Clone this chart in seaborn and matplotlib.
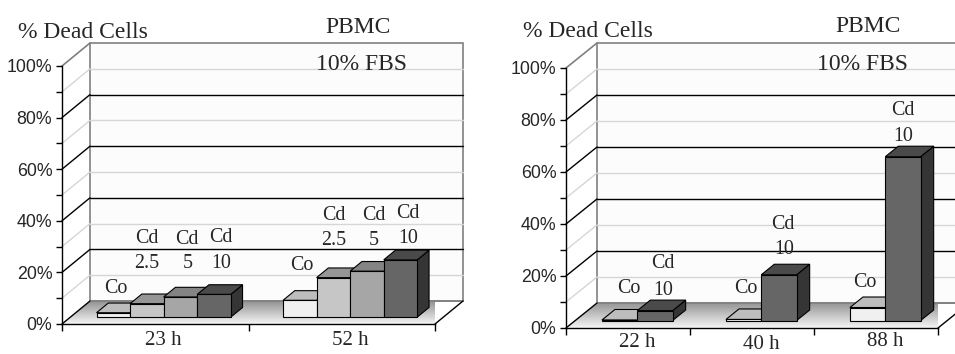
import numpy as np
import pandas as pd
import matplotlib
matplotlib.use("Agg")
import matplotlib.pyplot as plt
import seaborn as sns
from matplotlib.patches import Polygon, Rectangle
from matplotlib.colors import LinearSegmentedColormap, to_rgba

# ---------------- data ----------------
left_times = ["23 h", "52 h"]
left_series = ["Co", "Cd 2.5", "Cd 5", "Cd 10"]
left_co = [1.7, 6.5]
left_cd25 = [5.2, 15.3]
left_cd5 = [7.8, 17.8]
left_cd10 = [8.8, 22.2]

right_times = ["22 h", "40 h", "88 h"]
right_series = ["Co", "Cd 10"]
right_co = [0.2, 0.4, 5.0]
right_cd10 = [3.8, 17.6, 63.0]

y_major = [0, 20, 40, 60, 80, 100]
y_minor = [10, 30, 50, 70, 90]
y_labels = ["0%", "20%", "40%", "60%", "80%", "100%"]

title_cell = "PBMC"
title_medium = "10% FBS"
ylab = "% Dead Cells"

# ---------------- style ----------------
front_col = {"Co": "#f0f0f0", "Cd 2.5": "#c6c6c6", "Cd 5": "#a6a6a6", "Cd 10": "#666666"}
top_col = {"Co": "#bdbdbd", "Cd 2.5": "#969696", "Cd 5": "#848484", "Cd 10": "#4a4a4a"}
side_col = {"Co": "#a0a0a0", "Cd 2.5": "#8a8a8a", "Cd 5": "#6e6e6e", "Cd 10": "#353535"}

sns.set_style("white")
plt.rcParams["font.family"] = ["Liberation Sans", "DejaVu Sans"]
SERIF = ["Liberation Serif", "DejaVu Serif"]

W, H = 955, 354
fig = plt.figure(figsize=(W / 100, H / 100), dpi=100)
fig.patch.set_facecolor("white")

floor_cmap = LinearSegmentedColormap.from_list("floor", ["#f6f6f6", "#929292"])


def fpx(x, y):
    return x / W, 1 - y / H


def panel(rect, times, series, value_lists, width, dpx, bar_front=0.3, bar_depth=0.42):
    x0p, y0p, x1p, y100p = rect
    ax = fig.add_axes([x0p / W, 1 - y0p / H, (x1p - x0p) / W, (y0p - y100p) / H])
    n = len(times)
    rows = []
    for s, vals in zip(series, value_lists):
        for t, v in zip(times, vals):
            rows.append({"time": t, "series": s, "value": v})
    df = pd.DataFrame(rows)
    sns.barplot(data=df, x="time", y="value", hue="series", order=times,
                hue_order=series, palette=[front_col[s] for s in series],
                width=width, saturation=1, edgecolor="black", linewidth=0.8,
                errorbar=None, legend=False, ax=ax)
    ax.set_xlabel("")
    ax.set_ylabel("")
    xa, xb = -0.5, n - 0.5
    ddx = dpx[0] / (x1p - x0p) * n
    ddy = dpx[1] / (y0p - y100p) * 100

    bars = sorted(list(ax.patches), key=lambda p: p.get_x())
    for k, p in enumerate(bars):
        fc = p.get_facecolor()
        s = min(series, key=lambda q: sum((a - b) ** 2 for a, b in zip(to_rgba(front_col[q]), fc)))
        x, w, h = p.get_x(), p.get_width(), p.get_height()
        x = x + bar_front * ddx
        y = bar_front * ddy
        p.set_x(x)
        p.set_y(y)
        z = 3 + k * 0.01
        p.set_zorder(z + 0.005)
        p.set_clip_on(False)
        bx, by = bar_depth * ddx, bar_depth * ddy
        top = Polygon([(x, y + h), (x + w, y + h), (x + w + bx, y + h + by), (x + bx, y + h + by)],
                      closed=True, facecolor=top_col[s], edgecolor="black", lw=0.8,
                      zorder=z, clip_on=False)
        side = Polygon([(x + w, y), (x + w, y + h), (x + w + bx, y + h + by), (x + w + bx, y + by)],
                       closed=True, facecolor=side_col[s], edgecolor="black", lw=0.8,
                       zorder=z, clip_on=False)
        ax.add_patch(side)
        ax.add_patch(top)

    # left wall
    ax.add_patch(Polygon([(xa, 0), (xa, 100), (xa + ddx, 100 + ddy), (xa + ddx, ddy)],
                         closed=True, facecolor="white", edgecolor="none", zorder=0.2, clip_on=False))
    # back wall
    ax.add_patch(Rectangle((xa + ddx, ddy), xb - xa, 100, facecolor="#fcfcfc",
                           edgecolor="#808080", lw=1.2, zorder=0.2, clip_on=False))
    for v in y_minor:
        ax.plot([xa + ddx, xb + ddx], [v + ddy, v + ddy], color="#d6d6d6", lw=1, zorder=0.3, clip_on=False)
        ax.plot([xa, xa + ddx], [v, v + ddy], color="#d6d6d6", lw=1, zorder=0.3, clip_on=False)
    for v in y_major[1:-1]:
        ax.plot([xa + ddx, xb + ddx], [v + ddy, v + ddy], color="black", lw=1, zorder=0.35, clip_on=False)
        ax.plot([xa, xa + ddx], [v, v + ddy], color="black", lw=1, zorder=0.35, clip_on=False)
    ax.plot([xa, xa + ddx], [100, 100 + ddy], color="#808080", lw=1.2, zorder=0.35, clip_on=False)

    # floor with gradient
    floor = Polygon([(xa, 0), (xb, 0), (xb + ddx, ddy), (xa + ddx, ddy)], closed=True,
                    facecolor="none", edgecolor="none", zorder=0.5, clip_on=False)
    ax.add_patch(floor)
    grad = np.linspace(0, 1, 200).reshape(-1, 1)
    im = ax.imshow(grad, extent=[xa, xb + ddx, 0, ddy], origin="lower", aspect="auto",
                   cmap=floor_cmap, zorder=0.5, interpolation="bilinear")
    im.set_clip_path(floor)
    ax.plot([xa + ddx, xb + ddx], [ddy, ddy], color="#808080", lw=1.2, zorder=0.6, clip_on=False)
    ax.plot([xa, xa + ddx], [0, ddy], color="black", lw=1, zorder=0.6, clip_on=False)
    ax.plot([xb, xb + ddx], [0, ddy], color="black", lw=1, zorder=0.6, clip_on=False)

    ax.set_xlim(xa, xb)
    ax.set_ylim(0, 100)
    ax.patch.set_visible(False)
    for sp in ["top", "right"]:
        ax.spines[sp].set_visible(False)
    for sp in ["left", "bottom"]:
        ax.spines[sp].set_visible(True)
        ax.spines[sp].set_color("black")
        ax.spines[sp].set_linewidth(1)
    ax.set_yticks(y_major, y_labels)
    ax.set_yticks(y_minor, minor=True)
    ax.tick_params(axis="y", which="both", direction="out", length=4, width=1,
                   color="black", labelsize=12.8, pad=3, left=True)
    ax.set_xticks(np.arange(n + 1) - 0.5, [""] * (n + 1))
    ax.tick_params(axis="x", which="major", direction="out", length=5, width=1,
                   color="black", bottom=True)
    return ax, ddx, ddy


axL, ddxL, ddyL = panel((62, 324, 435, 66), left_times, left_series,
                        [left_co, left_cd25, left_cd5, left_cd10], 0.72, (28, 23))
axR, ddxR, ddyR = panel((566, 328, 938, 68), right_times, right_series,
                        [right_co, right_cd10], 0.57, (31, 25))


# category labels (below the axis, shifted by bar depth offset)
def cat_labels(ax, times, ddx, y0p, scale, baselines):
    for i, (t, b) in enumerate(zip(times, baselines)):
        ax.text(i + 0.3 * ddx, (y0p - b) / scale * 100, t, ha="center", va="baseline",
                family=SERIF, fontsize=15, clip_on=False)


cat_labels(axL, left_times, ddxL, 324, 258, [345, 345])
cat_labels(axR, right_times, ddxR, 328, 260, [347, 349, 346])


# titles
def ftext(x, y, s, size, ha="center"):
    fx, fy = fpx(x, y)
    fig.text(fx, fy, s, ha=ha, va="baseline", family=SERIF, fontsize=size)


ftext(18, 38, ylab, 17, ha="left")
ftext(358, 33, title_cell, 17)
ftext(361, 70, title_medium, 17)
ftext(523, 37, ylab, 17, ha="left")
ftext(868, 32, title_cell, 17)
ftext(862, 70, title_medium, 17)

# bar annotations
lab = 14.4
for x, y, s in [(116, 293, "Co"), (147, 243, "Cd"), (147, 268, "2.5"), (187, 244, "Cd"),
                (188, 268, "5"), (221, 242, "Cd"), (221, 268, "10"),
                (302, 270, "Co"), (334, 220, "Cd"), (334, 245, "2.5"), (374, 220, "Cd"),
                (374, 245, "5"), (408, 218, "Cd"), (408, 243, "10"),
                (629, 293, "Co"), (663, 268, "Cd"), (663, 295, "10"),
                (746, 293, "Co"), (783, 229, "Cd"), (784, 254, "10"),
                (865, 287, "Co"), (903, 115, "Cd"), (903, 141, "10")]:
    ftext(x, y, s, lab)

fig.savefig("out.png", dpi=100, facecolor="white")
